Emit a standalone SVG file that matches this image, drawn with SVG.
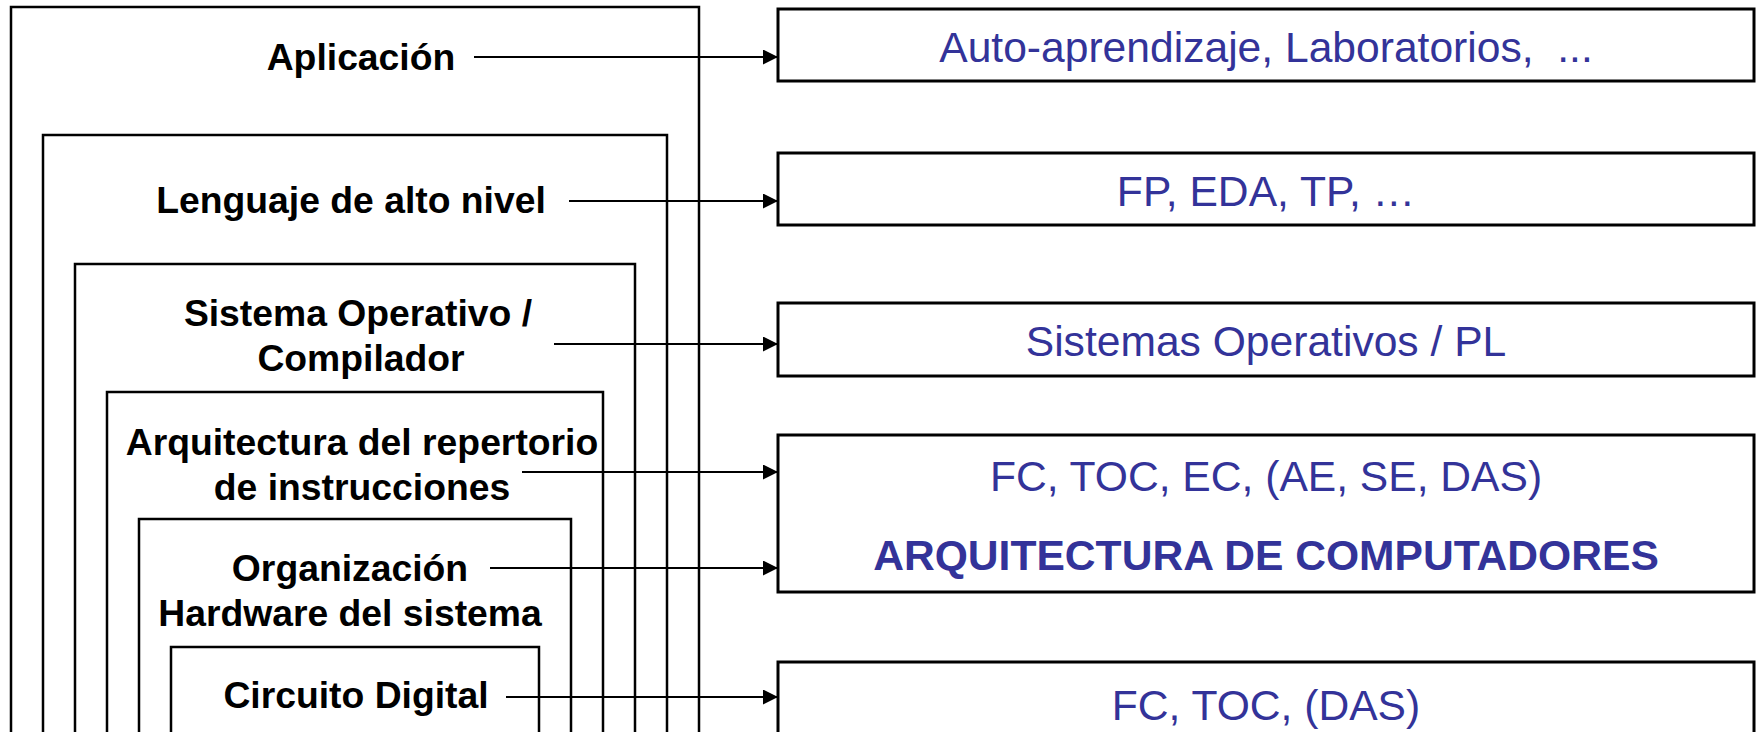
<svg xmlns="http://www.w3.org/2000/svg" width="1758" height="732" viewBox="0 0 1758 732">
<style>
.layer{fill:none;stroke:#000;stroke-width:2.5}
.box{fill:#fff;stroke:#000;stroke-width:3}
.lbl{font-family:"Liberation Sans",Arial,sans-serif;font-size:37.3px;font-weight:bold;fill:#000;text-anchor:middle}
.txt{font-family:"Liberation Sans",Arial,sans-serif;font-size:42.6px;fill:#333399;text-anchor:middle;white-space:pre}
.txtb{font-family:"Liberation Sans",Arial,sans-serif;font-size:42.6px;font-weight:bold;fill:#333399;text-anchor:middle}
.conn{stroke:#000;stroke-width:2.2;fill:none}
</style>
<defs>
<marker id="ah" markerUnits="userSpaceOnUse" markerWidth="16" markerHeight="16" refX="15" refY="7.5" orient="auto">
<path d="M0,0 L15,7.5 L0,15 z" fill="#000"/>
</marker>
</defs>
<rect width="1758" height="732" fill="#fff"/>
<g id="layer-aplicacion">
<rect class="layer" x="11" y="7" width="688" height="800"/>
<text class="lbl" x="361" y="70">Aplicación</text>
</g>
<g id="layer-lenguaje">
<rect class="layer" x="43" y="135" width="624" height="700"/>
<text class="lbl" x="351" y="213">Lenguaje de alto nivel</text>
</g>
<g id="layer-so">
<rect class="layer" x="75" y="264" width="560" height="600"/>
<text class="lbl" x="358" y="326">Sistema Operativo /</text>
<text class="lbl" x="361" y="371">Compilador</text>
</g>
<g id="layer-isa">
<rect class="layer" x="107" y="392" width="496" height="500"/>
<text class="lbl" x="362" y="455">Arquitectura del repertorio</text>
<text class="lbl" x="362" y="500">de instrucciones</text>
</g>
<g id="layer-org">
<rect class="layer" x="139" y="519" width="432" height="400"/>
<text class="lbl" x="350" y="581">Organización</text>
<text class="lbl" x="350" y="626">Hardware del sistema</text>
</g>
<g id="layer-circuito">
<rect class="layer" x="171" y="647" width="368" height="300"/>
<text class="lbl" x="356" y="708">Circuito Digital</text>
</g>
<g id="box-1">
<rect class="box" x="778" y="9" width="976" height="72"/>
<text class="txt" x="1266" y="62" xml:space="preserve">Auto-aprendizaje, Laboratorios,  ...</text>
</g>
<g id="box-2">
<rect class="box" x="778" y="153" width="976" height="72"/>
<text class="txt" x="1266" y="206">FP, EDA, TP, …</text>
</g>
<g id="box-3">
<rect class="box" x="778" y="303" width="976" height="73"/>
<text class="txt" x="1266" y="356">Sistemas Operativos / PL</text>
</g>
<g id="box-4">
<rect class="box" x="778" y="435" width="976" height="157"/>
<text class="txt" x="1266" y="491">FC, TOC, EC, (AE, SE, DAS)</text>
<text class="txtb" x="1266" y="570">ARQUITECTURA DE COMPUTADORES</text>
</g>
<g id="box-5">
<rect class="box" x="778" y="662" width="976" height="120"/>
<text class="txt" x="1266" y="720">FC, TOC, (DAS)</text>
</g>
<g id="connectors">
<line class="conn" x1="474" y1="57" x2="778" y2="57" marker-end="url(#ah)"/>
<line class="conn" x1="569" y1="201" x2="778" y2="201" marker-end="url(#ah)"/>
<line class="conn" x1="554" y1="344" x2="778" y2="344" marker-end="url(#ah)"/>
<line class="conn" x1="522" y1="472" x2="778" y2="472" marker-end="url(#ah)"/>
<line class="conn" x1="490" y1="568" x2="778" y2="568" marker-end="url(#ah)"/>
<line class="conn" x1="506" y1="697" x2="778" y2="697" marker-end="url(#ah)"/>
</g>
</svg>
